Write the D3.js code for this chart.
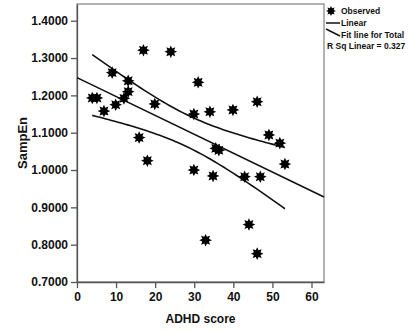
<!DOCTYPE html>
<html>
<head>
  <meta charset="UTF-8">
  <title>SampEn vs ADHD score</title>
  <style>
    body { margin: 0; background: #fff; }
    svg text { font-family: "Liberation Sans", Arial, sans-serif; font-weight: bold; fill: #111; }
  </style>
</head>
<body>
<svg></svg>
<script src="https://d3js.org/d3.v7.min.js"></script>
<script>
  // data
  var adhd = [3.9, 5.1, 6.9, 9.0, 9.9, 12.0, 13.1, 13.1, 15.9, 17.0, 18.0, 19.9, 24.0, 29.9, 29.9,
              31.0, 32.9, 34.0, 34.8, 35.5, 36.3, 39.9, 42.9, 44.0, 46.1, 46.1, 46.9, 49.1, 51.9, 53.2];
  var sampen = [1.193, 1.193, 1.158, 1.261, 1.175, 1.192, 1.210, 1.239, 1.087, 1.321, 1.025, 1.177, 1.317, 1.150, 1.000,
                1.235, 0.812, 1.156, 0.984, 1.058, 1.053, 1.161, 0.982, 0.854, 1.183, 0.776, 0.982, 1.094, 1.072, 1.016];
  var xTicks = [0, 10, 20, 30, 40, 50, 60];
  var yTicks = [0.7, 0.8, 0.9, 1.0, 1.1, 1.2, 1.3, 1.4];
  var legendLabels = ["Observed", "Linear", "Fit line for Total", "R Sq Linear = 0.327"];

  let width = 414, height = 333;
  let svg = d3.select("svg").attr("width", width).attr("height", height);

  var x = d3.scaleLinear().domain([0, 63.2]).range([77, 324]);
  var y = d3.scaleLinear().domain([0.7, 1.4448]).range([282, 4]);

  // star marker like the SPSS one
  function starPath(ro, ri) {
    var pts = [];
    for (let i = 0; i < 16; i++) {
      var a = i * Math.PI / 8 - Math.PI / 2;
      var r = i % 2 ? ri : ro;
      pts.push([r * Math.cos(a), r * Math.sin(a)]);
    }
    return d3.line()(pts) + "Z";
  }

  // frame
  svg.append("rect")
    .attr("x", x.range()[0]).attr("y", y.range()[1])
    .attr("width", x.range()[1] - x.range()[0])
    .attr("height", y.range()[0] - y.range()[1])
    .attr("fill", "none").attr("stroke", "#8a8a8a").attr("stroke-width", 1.3);

  // axes
  var xAxis = svg.append("g").attr("transform", "translate(0," + y.range()[0] + ")")
    .call(d3.axisBottom(x).tickValues(xTicks).tickFormat(d3.format("d")).tickSize(6).tickSizeOuter(0));
  var yAxis = svg.append("g").attr("transform", "translate(" + x.range()[0] + ",0)")
    .call(d3.axisLeft(y).tickValues(yTicks).tickFormat(d3.format(".4f")).tickSize(6).tickSizeOuter(0));
  [xAxis, yAxis].forEach(g => {
    g.select(".domain").attr("stroke", "#555").attr("stroke-width", 1.3);
    g.selectAll(".tick line").attr("stroke", "#555").attr("stroke-width", 1.3);
    g.selectAll(".tick text").attr("font-size", 12).attr("font-family", "Liberation Sans, Arial").attr("font-weight", "bold").attr("fill", "#111");
  });
  xAxis.selectAll(".tick text").attr("dy", "0.95em").attr("y", 8);
  yAxis.selectAll(".tick text").attr("x", -9);

  svg.append("text").attr("x", (x.range()[0] + x.range()[1]) / 2).attr("y", 323)
    .attr("text-anchor", "middle").attr("font-size", 12).text("ADHD score");
  svg.append("text").attr("transform", "translate(27," + ((y.range()[0] + y.range()[1]) / 2) + ") rotate(-90)")
    .attr("text-anchor", "middle").attr("font-size", 13).text("SampEn");

  // least squares fit and 95% mean confidence band
  var n = adhd.length;
  var mx = d3.mean(adhd), my = d3.mean(sampen);
  var sxx = d3.sum(adhd, d => (d - mx) * (d - mx));
  var sxy = d3.sum(adhd, (d, i) => (d - mx) * (sampen[i] - my));
  var slope = sxy / sxx, icpt = my - slope * mx;
  var sse = d3.sum(adhd, (d, i) => Math.pow(sampen[i] - (icpt + slope * d), 2));
  var s = Math.sqrt(sse / (n - 2));
  var tcrit = 2.048; // t(0.975, 28)

  var line = d3.line().x(d => x(d[0])).y(d => y(d[1]));
  var xd = x.domain();
  svg.append("path").attr("d", line([[xd[0], icpt + slope * xd[0]], [xd[1], icpt + slope * xd[1]]]))
    .attr("fill", "none").attr("stroke", "#111").attr("stroke-width", 1.6);

  var xs = d3.range(0, 61).map(i => d3.min(adhd) + i * (d3.max(adhd) - d3.min(adhd)) / 60);
  [1, -1].forEach(sign => {
    var pts = xs.map(v => [v, icpt + slope * v + sign * tcrit * s * Math.sqrt(1 / n + (v - mx) * (v - mx) / sxx)]);
    svg.append("path").attr("d", line(pts))
      .attr("fill", "none").attr("stroke", "#111").attr("stroke-width", 1.6);
  });

  // points
  svg.append("g").selectAll("path")
    .data(adhd)
    .enter().append("path")
    .attr("d", starPath(6.3, 3.6))
    .attr("transform", (d, i) => "translate(" + x(d) + "," + y(sampen[i]) + ")")
    .attr("fill", "#000");

  // legend
  var lg = svg.append("g");
  lg.append("path").attr("d", starPath(5, 2.9)).attr("transform", "translate(331,11)").attr("fill", "#000");
  lg.append("line").attr("x1", 326).attr("x2", 340).attr("y1", 23).attr("y2", 23).attr("stroke", "#111").attr("stroke-width", 1.5);
  lg.append("line").attr("x1", 326).attr("x2", 340).attr("y1", 29).attr("y2", 36).attr("stroke", "#111").attr("stroke-width", 1.5);
  var ly = [14, 26, 38, 49];
  var lx = [341, 341, 341, 327];
  lg.selectAll("text").data(legendLabels).enter().append("text")
    .attr("x", (d, i) => lx[i]).attr("y", (d, i) => ly[i])
    .attr("font-size", 8.5).text(d => d);
</script>
</body>
</html>
